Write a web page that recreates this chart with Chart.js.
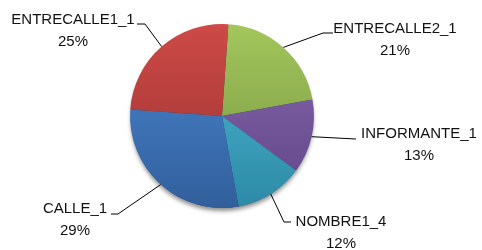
<!DOCTYPE html>
<html>
<head>
<meta charset="utf-8">
<script src="https://cdn.jsdelivr.net/npm/chart.js@4/dist/chart.umd.min.js"></script>
<style>
  html, body { margin: 0; padding: 0; background: #ffffff; }
  #wrap { width: 482px; height: 250px; }
</style>
</head>
<body>
<div id="wrap"><canvas id="c" width="482" height="250"></canvas></div>
<script>
// ---- data ----
const categories = ["ENTRECALLE2_1", "INFORMANTE_1", "NOMBRE1_4", "CALLE_1", "ENTRECALLE1_1"];
const percentages = [21, 13, 12, 29, 25];

// ---- style ----
const topColors    = ["#a3c65c", "#8a68b0", "#4fbbd6", "#4a88d2", "#cd4a47"];
const bottomColors = ["#76943f", "#5f4586", "#2d8aa6", "#325f9c", "#993230"];

// label layout (text centres and leader elbows), in canvas pixels
const labelLayout = [
  { elbow: [323, 33],  end: [333, 33],  tx: 395, ty: 29 },
  { elbow: null,       end: [356, 139], tx: 419, ty: 134 },
  { elbow: [284, 222], end: [291, 222], tx: 341, ty: 222 },
  { elbow: [118, 214], end: [111, 214], tx: 75,  ty: 209 },
  { elbow: [145, 24],  end: [137, 24],  tx: 73,  ty: 20 }
];

function sliceFill(ctx) {
  const i = ctx.dataIndex;
  const chart = ctx.chart;
  const area = chart.chartArea;
  if (!area) return topColors[i];
  const g = chart.ctx.createLinearGradient(0, area.top, 0, area.bottom);
  g.addColorStop(0, topColors[i]);
  g.addColorStop(1, bottomColors[i]);
  return g;
}

const shadowPlugin = {
  id: 'pieShadow',
  beforeDatasetsDraw(chart) {
    const meta = chart.getDatasetMeta(0);
    const el = meta.data[0];
    if (!el) return;
    const c = chart.ctx;
    c.save();
    c.shadowColor = 'rgba(0,0,0,0.45)';
    c.shadowBlur = 4;
    c.shadowOffsetY = 3;
    c.fillStyle = '#2b3e5e';
    c.beginPath();
    c.arc(el.x, el.y + 1, el.outerRadius - 1, 0, Math.PI * 2);
    c.fill();
    c.restore();
  }
};

const labelPlugin = {
  id: 'pieLabels',
  afterDatasetsDraw(chart) {
    const meta = chart.getDatasetMeta(0);
    const c = chart.ctx;
    c.save();
    meta.data.forEach((el, i) => {
      const L = labelLayout[i];
      const mid = (el.startAngle + el.endAngle) / 2;
      const sx = el.x + Math.cos(mid) * el.outerRadius;
      const sy = el.y + Math.sin(mid) * el.outerRadius;
      c.strokeStyle = '#000';
      c.lineWidth = 1;
      c.beginPath();
      c.moveTo(sx, sy);
      if (L.elbow) c.lineTo(L.elbow[0], L.elbow[1]);
      c.lineTo(L.end[0], L.end[1]);
      c.stroke();
      c.fillStyle = '#111';
      c.font = '15px "Liberation Sans", Arial, sans-serif';
      c.textAlign = 'center';
      c.textBaseline = 'middle';
      c.fillText(chart.data.labels[i], L.tx, L.ty);
      c.fillText(chart.data.datasets[0].data[i] + '%', L.tx, L.ty + 22);
    });
    c.restore();
  }
};

new Chart(document.getElementById('c'), {
  type: 'pie',
  data: {
    labels: categories,
    datasets: [{
      data: percentages,
      backgroundColor: sliceFill,
      borderWidth: 0
    }]
  },
  options: {
    responsive: false,
    animation: false,
    rotation: 4,
    layout: { padding: { left: 130, right: 168, top: 24, bottom: 42 } },
    plugins: {
      legend: { display: false },
      tooltip: { enabled: false }
    }
  },
  plugins: [shadowPlugin, labelPlugin]
});
</script>
</body>
</html>
